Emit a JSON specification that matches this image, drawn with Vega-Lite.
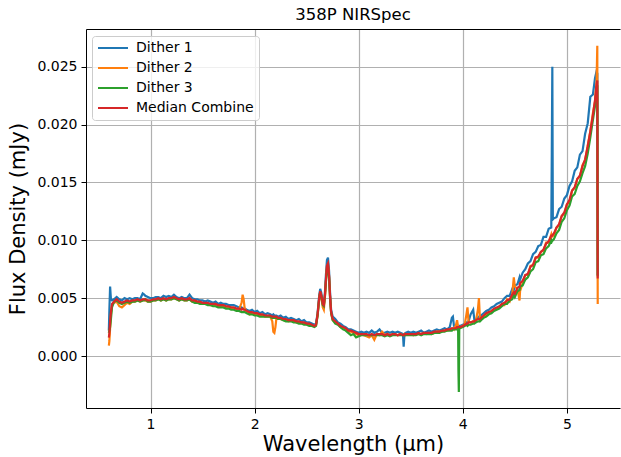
{
"$schema":"https://vega.github.io/schema/vega-lite/v6.json",
"width":534,"height":379,
"autosize":{"type":"none"},
"padding":{"left":86,"top":29,"right":1,"bottom":49},
"background":"white",
"config":{"view":{"stroke":null},"font":"DejaVu Sans",
"axis":{"labelFont":"DejaVu Sans","labelFontSize":14,"labelColor":"black","tickColor":"black","tickSize":5,"tickWidth":1,"labelPadding":4,"domainColor":"black","domainWidth":1,"gridColor":"#b0b0b0","gridWidth":1.2,"titleFont":"DejaVu Sans","titleFontSize":21,"titleFontWeight":"normal","titleColor":"black"}},
"title":{"text":"358P NIRSpec","fontSize":16.5,"fontWeight":"normal","font":"DejaVu Sans","color":"black","offset":6},
"data":{"values":[
{"w":0.600,"d1":0.0022,"d2":0.0009,"d3":0.0020,"m":0.0016},
{"w":0.605,"d1":0.0040,"d2":0.0013,"d3":0.0022,"m":0.0020},
{"w":0.612,"d1":0.0060,"d2":0.0024,"d3":0.0025,"m":0.0030},
{"w":0.620,"d1":0.0049,"d2":0.0036,"d3":0.0032,"m":0.0038},
{"w":0.630,"d1":0.0048,"d2":0.0044,"d3":0.0042,"m":0.0045},
{"w":0.650,"d1":0.0049,"d2":0.0046,"d3":0.0047,"m":0.0047},
{"w":0.675,"d1":0.0051,"d2":0.0047,"d3":0.0048,"m":0.0049},
{"w":0.700,"d1":0.0049,"d2":0.0043,"d3":0.0046,"m":0.0047},
{"w":0.725,"d1":0.0048,"d2":0.0042,"d3":0.0045,"m":0.0046},
{"w":0.750,"d1":0.0050,"d2":0.0044,"d3":0.0046,"m":0.0047},
{"w":0.775,"d1":0.0049,"d2":0.0046,"d3":0.0047,"m":0.0048},
{"w":0.800,"d1":0.0050,"d2":0.0045,"d3":0.0046,"m":0.0047},
{"w":0.825,"d1":0.0049,"d2":0.0047,"d3":0.0047,"m":0.0048},
{"w":0.850,"d1":0.0050,"d2":0.0047,"d3":0.0047,"m":0.0048},
{"w":0.875,"d1":0.0050,"d2":0.0048,"d3":0.0048,"m":0.0049},
{"w":0.900,"d1":0.0049,"d2":0.0047,"d3":0.0047,"m":0.0048},
{"w":0.925,"d1":0.0054,"d2":0.0048,"d3":0.0048,"m":0.0049},
{"w":0.940,"d1":0.0053,"d2":0.0049,"d3":0.0048,"m":0.0049},
{"w":0.950,"d1":0.0052,"d2":0.0048,"d3":0.0049,"m":0.0049},
{"w":0.975,"d1":0.0051,"d2":0.0047,"d3":0.0047,"m":0.0048},
{"w":1.000,"d1":0.0050,"d2":0.0047,"d3":0.0047,"m":0.0048},
{"w":1.025,"d1":0.0050,"d2":0.0048,"d3":0.0048,"m":0.0049},
{"w":1.050,"d1":0.0051,"d2":0.0048,"d3":0.0048,"m":0.0049},
{"w":1.075,"d1":0.0051,"d2":0.0049,"d3":0.0049,"m":0.0050},
{"w":1.100,"d1":0.0050,"d2":0.0048,"d3":0.0048,"m":0.0049},
{"w":1.125,"d1":0.0052,"d2":0.0049,"d3":0.0049,"m":0.0050},
{"w":1.150,"d1":0.0051,"d2":0.0048,"d3":0.0048,"m":0.0049},
{"w":1.175,"d1":0.0052,"d2":0.0049,"d3":0.0049,"m":0.0050},
{"w":1.200,"d1":0.0051,"d2":0.0049,"d3":0.0049,"m":0.0050},
{"w":1.225,"d1":0.0053,"d2":0.0050,"d3":0.0050,"m":0.0051},
{"w":1.250,"d1":0.0051,"d2":0.0049,"d3":0.0049,"m":0.0050},
{"w":1.275,"d1":0.0050,"d2":0.0048,"d3":0.0048,"m":0.0049},
{"w":1.300,"d1":0.0051,"d2":0.0049,"d3":0.0049,"m":0.0050},
{"w":1.325,"d1":0.0050,"d2":0.0048,"d3":0.0048,"m":0.0049},
{"w":1.350,"d1":0.0050,"d2":0.0048,"d3":0.0048,"m":0.0049},
{"w":1.375,"d1":0.0053,"d2":0.0049,"d3":0.0049,"m":0.0050},
{"w":1.400,"d1":0.0050,"d2":0.0047,"d3":0.0047,"m":0.0048},
{"w":1.425,"d1":0.0049,"d2":0.0047,"d3":0.0046,"m":0.0048},
{"w":1.450,"d1":0.0049,"d2":0.0046,"d3":0.0046,"m":0.0047},
{"w":1.475,"d1":0.0048,"d2":0.0046,"d3":0.0045,"m":0.0047},
{"w":1.500,"d1":0.0048,"d2":0.0045,"d3":0.0045,"m":0.0046},
{"w":1.525,"d1":0.0047,"d2":0.0045,"d3":0.0045,"m":0.0046},
{"w":1.550,"d1":0.0048,"d2":0.0045,"d3":0.0044,"m":0.0046},
{"w":1.575,"d1":0.0047,"d2":0.0044,"d3":0.0044,"m":0.0045},
{"w":1.600,"d1":0.0046,"d2":0.0044,"d3":0.0043,"m":0.0045},
{"w":1.625,"d1":0.0047,"d2":0.0044,"d3":0.0043,"m":0.0045},
{"w":1.650,"d1":0.0045,"d2":0.0043,"d3":0.0042,"m":0.0044},
{"w":1.675,"d1":0.0046,"d2":0.0043,"d3":0.0042,"m":0.0044},
{"w":1.700,"d1":0.0045,"d2":0.0043,"d3":0.0042,"m":0.0044},
{"w":1.725,"d1":0.0045,"d2":0.0042,"d3":0.0041,"m":0.0043},
{"w":1.750,"d1":0.0044,"d2":0.0042,"d3":0.0041,"m":0.0043},
{"w":1.775,"d1":0.0044,"d2":0.0041,"d3":0.0040,"m":0.0042},
{"w":1.800,"d1":0.0044,"d2":0.0041,"d3":0.0040,"m":0.0042},
{"w":1.825,"d1":0.0043,"d2":0.0040,"d3":0.0039,"m":0.0041},
{"w":1.850,"d1":0.0042,"d2":0.0040,"d3":0.0039,"m":0.0041},
{"w":1.875,"d1":0.0042,"d2":0.0046,"d3":0.0038,"m":0.0040},
{"w":1.885,"d1":0.0041,"d2":0.0053,"d3":0.0038,"m":0.0041},
{"w":1.895,"d1":0.0041,"d2":0.0049,"d3":0.0038,"m":0.0040},
{"w":1.905,"d1":0.0041,"d2":0.0041,"d3":0.0038,"m":0.0040},
{"w":1.925,"d1":0.0040,"d2":0.0038,"d3":0.0037,"m":0.0039},
{"w":1.950,"d1":0.0039,"d2":0.0036,"d3":0.0036,"m":0.0038},
{"w":1.975,"d1":0.0040,"d2":0.0037,"d3":0.0036,"m":0.0038},
{"w":2.000,"d1":0.0038,"d2":0.0036,"d3":0.0035,"m":0.0037},
{"w":2.025,"d1":0.0039,"d2":0.0036,"d3":0.0035,"m":0.0037},
{"w":2.050,"d1":0.0037,"d2":0.0035,"d3":0.0034,"m":0.0036},
{"w":2.075,"d1":0.0038,"d2":0.0035,"d3":0.0034,"m":0.0036},
{"w":2.100,"d1":0.0036,"d2":0.0034,"d3":0.0034,"m":0.0035},
{"w":2.125,"d1":0.0037,"d2":0.0034,"d3":0.0034,"m":0.0035},
{"w":2.150,"d1":0.0036,"d2":0.0034,"d3":0.0034,"m":0.0035},
{"w":2.170,"d1":0.0035,"d2":0.0030,"d3":0.0033,"m":0.0034},
{"w":2.180,"d1":0.0036,"d2":0.0021,"d3":0.0033,"m":0.0034},
{"w":2.190,"d1":0.0035,"d2":0.0020,"d3":0.0033,"m":0.0034},
{"w":2.200,"d1":0.0035,"d2":0.0025,"d3":0.0033,"m":0.0034},
{"w":2.210,"d1":0.0035,"d2":0.0033,"d3":0.0033,"m":0.0034},
{"w":2.225,"d1":0.0034,"d2":0.0032,"d3":0.0032,"m":0.0033},
{"w":2.250,"d1":0.0035,"d2":0.0032,"d3":0.0032,"m":0.0033},
{"w":2.275,"d1":0.0033,"d2":0.0031,"d3":0.0031,"m":0.0032},
{"w":2.300,"d1":0.0034,"d2":0.0031,"d3":0.0030,"m":0.0032},
{"w":2.325,"d1":0.0032,"d2":0.0030,"d3":0.0030,"m":0.0031},
{"w":2.350,"d1":0.0033,"d2":0.0031,"d3":0.0030,"m":0.0031},
{"w":2.375,"d1":0.0032,"d2":0.0030,"d3":0.0029,"m":0.0031},
{"w":2.400,"d1":0.0031,"d2":0.0029,"d3":0.0029,"m":0.0030},
{"w":2.425,"d1":0.0032,"d2":0.0029,"d3":0.0028,"m":0.0030},
{"w":2.450,"d1":0.0030,"d2":0.0029,"d3":0.0028,"m":0.0029},
{"w":2.475,"d1":0.0031,"d2":0.0028,"d3":0.0027,"m":0.0029},
{"w":2.500,"d1":0.0029,"d2":0.0028,"d3":0.0027,"m":0.0028},
{"w":2.525,"d1":0.0029,"d2":0.0027,"d3":0.0026,"m":0.0028},
{"w":2.550,"d1":0.0028,"d2":0.0026,"d3":0.0026,"m":0.0027},
{"w":2.575,"d1":0.0027,"d2":0.0026,"d3":0.0025,"m":0.0026},
{"w":2.590,"d1":0.0028,"d2":0.0027,"d3":0.0026,"m":0.0027},
{"w":2.605,"d1":0.0037,"d2":0.0035,"d3":0.0035,"m":0.0036},
{"w":2.620,"d1":0.0052,"d2":0.0049,"d3":0.0049,"m":0.0050},
{"w":2.630,"d1":0.0058,"d2":0.0055,"d3":0.0055,"m":0.0056},
{"w":2.640,"d1":0.0055,"d2":0.0051,"d3":0.0052,"m":0.0053},
{"w":2.655,"d1":0.0046,"d2":0.0042,"d3":0.0044,"m":0.0045},
{"w":2.665,"d1":0.0045,"d2":0.0040,"d3":0.0043,"m":0.0044},
{"w":2.675,"d1":0.0054,"d2":0.0050,"d3":0.0051,"m":0.0052},
{"w":2.685,"d1":0.0070,"d2":0.0064,"d3":0.0064,"m":0.0066},
{"w":2.695,"d1":0.0083,"d2":0.0077,"d3":0.0075,"m":0.0078},
{"w":2.705,"d1":0.0085,"d2":0.0079,"d3":0.0077,"m":0.0080},
{"w":2.715,"d1":0.0074,"d2":0.0069,"d3":0.0068,"m":0.0070},
{"w":2.725,"d1":0.0055,"d2":0.0051,"d3":0.0050,"m":0.0052},
{"w":2.735,"d1":0.0040,"d2":0.0037,"d3":0.0037,"m":0.0038},
{"w":2.750,"d1":0.0034,"d2":0.0031,"d3":0.0031,"m":0.0032},
{"w":2.775,"d1":0.0032,"d2":0.0029,"d3":0.0028,"m":0.0030},
{"w":2.800,"d1":0.0029,"d2":0.0028,"d3":0.0027,"m":0.0028},
{"w":2.825,"d1":0.0028,"d2":0.0025,"d3":0.0025,"m":0.0026},
{"w":2.850,"d1":0.0026,"d2":0.0024,"d3":0.0023,"m":0.0025},
{"w":2.875,"d1":0.0025,"d2":0.0023,"d3":0.0022,"m":0.0024},
{"w":2.900,"d1":0.0023,"d2":0.0021,"d3":0.0020,"m":0.0022},
{"w":2.925,"d1":0.0023,"d2":0.0021,"d3":0.0018,"m":0.0022},
{"w":2.950,"d1":0.0022,"d2":0.0020,"d3":0.0019,"m":0.0021},
{"w":2.975,"d1":0.0021,"d2":0.0019,"d3":0.0016,"m":0.0020},
{"w":3.000,"d1":0.0020,"d2":0.0018,"d3":0.0017,"m":0.0019},
{"w":3.025,"d1":0.0021,"d2":0.0019,"d3":0.0018,"m":0.0019},
{"w":3.050,"d1":0.0020,"d2":0.0018,"d3":0.0018,"m":0.0019},
{"w":3.075,"d1":0.0021,"d2":0.0017,"d3":0.0018,"m":0.0019},
{"w":3.100,"d1":0.0020,"d2":0.0016,"d3":0.0018,"m":0.0018},
{"w":3.125,"d1":0.0022,"d2":0.0018,"d3":0.0018,"m":0.0019},
{"w":3.150,"d1":0.0020,"d2":0.0014,"d3":0.0018,"m":0.0018},
{"w":3.175,"d1":0.0021,"d2":0.0019,"d3":0.0018,"m":0.0019},
{"w":3.200,"d1":0.0023,"d2":0.0018,"d3":0.0018,"m":0.0019},
{"w":3.225,"d1":0.0020,"d2":0.0021,"d3":0.0018,"m":0.0019},
{"w":3.250,"d1":0.0020,"d2":0.0018,"d3":0.0017,"m":0.0018},
{"w":3.275,"d1":0.0021,"d2":0.0019,"d3":0.0018,"m":0.0019},
{"w":3.300,"d1":0.0020,"d2":0.0018,"d3":0.0017,"m":0.0018},
{"w":3.325,"d1":0.0021,"d2":0.0019,"d3":0.0018,"m":0.0019},
{"w":3.350,"d1":0.0020,"d2":0.0019,"d3":0.0018,"m":0.0019},
{"w":3.375,"d1":0.0021,"d2":0.0018,"d3":0.0018,"m":0.0018},
{"w":3.400,"d1":0.0020,"d2":0.0019,"d3":0.0018,"m":0.0019},
{"w":3.425,"d1":0.0019,"d2":0.0018,"d3":0.0018,"m":0.0018},
{"w":3.432,"d1":0.0008,"d2":0.0018,"d3":0.0018,"m":0.0018},
{"w":3.440,"d1":0.0019,"d2":0.0019,"d3":0.0018,"m":0.0019},
{"w":3.450,"d1":0.0020,"d2":0.0018,"d3":0.0018,"m":0.0019},
{"w":3.475,"d1":0.0021,"d2":0.0019,"d3":0.0018,"m":0.0019},
{"w":3.500,"d1":0.0020,"d2":0.0019,"d3":0.0018,"m":0.0019},
{"w":3.525,"d1":0.0021,"d2":0.0018,"d3":0.0018,"m":0.0019},
{"w":3.550,"d1":0.0020,"d2":0.0019,"d3":0.0018,"m":0.0019},
{"w":3.575,"d1":0.0021,"d2":0.0019,"d3":0.0019,"m":0.0020},
{"w":3.600,"d1":0.0022,"d2":0.0019,"d3":0.0018,"m":0.0019},
{"w":3.625,"d1":0.0020,"d2":0.0020,"d3":0.0019,"m":0.0020},
{"w":3.650,"d1":0.0021,"d2":0.0019,"d3":0.0019,"m":0.0020},
{"w":3.675,"d1":0.0022,"d2":0.0020,"d3":0.0019,"m":0.0020},
{"w":3.700,"d1":0.0021,"d2":0.0019,"d3":0.0019,"m":0.0020},
{"w":3.725,"d1":0.0022,"d2":0.0020,"d3":0.0020,"m":0.0021},
{"w":3.750,"d1":0.0023,"d2":0.0021,"d3":0.0020,"m":0.0021},
{"w":3.775,"d1":0.0022,"d2":0.0021,"d3":0.0020,"m":0.0021},
{"w":3.800,"d1":0.0023,"d2":0.0021,"d3":0.0021,"m":0.0022},
{"w":3.825,"d1":0.0024,"d2":0.0022,"d3":0.0021,"m":0.0022},
{"w":3.850,"d1":0.0023,"d2":0.0022,"d3":0.0022,"m":0.0023},
{"w":3.875,"d1":0.0025,"d2":0.0023,"d3":0.0022,"m":0.0023},
{"w":3.895,"d1":0.0033,"d2":0.0024,"d3":0.0022,"m":0.0024},
{"w":3.905,"d1":0.0034,"d2":0.0024,"d3":0.0023,"m":0.0024},
{"w":3.915,"d1":0.0026,"d2":0.0023,"d3":0.0023,"m":0.0024},
{"w":3.935,"d1":0.0025,"d2":0.0027,"d3":0.0023,"m":0.0024},
{"w":3.945,"d1":0.0025,"d2":0.0031,"d3":0.0023,"m":0.0025},
{"w":3.955,"d1":0.0025,"d2":0.0025,"d3":0.0024,"m":0.0025},
{"w":3.958,"d1":0.0025,"d2":0.0025,"d3":-0.0012,"m":0.0025},
{"w":3.962,"d1":0.0026,"d2":0.0025,"d3":-0.0031,"m":0.0025},
{"w":3.966,"d1":0.0026,"d2":0.0025,"d3":0.0024,"m":0.0025},
{"w":3.975,"d1":0.0026,"d2":0.0025,"d3":0.0024,"m":0.0025},
{"w":4.000,"d1":0.0027,"d2":0.0026,"d3":0.0025,"m":0.0026},
{"w":4.020,"d1":0.0028,"d2":0.0028,"d3":0.0026,"m":0.0027},
{"w":4.035,"d1":0.0029,"d2":0.0036,"d3":0.0027,"m":0.0028},
{"w":4.045,"d1":0.0028,"d2":0.0042,"d3":0.0026,"m":0.0028},
{"w":4.055,"d1":0.0030,"d2":0.0030,"d3":0.0027,"m":0.0029},
{"w":4.075,"d1":0.0036,"d2":0.0029,"d3":0.0027,"m":0.0029},
{"w":4.100,"d1":0.0040,"d2":0.0030,"d3":0.0028,"m":0.0030},
{"w":4.110,"d1":0.0032,"d2":0.0029,"d3":0.0028,"m":0.0030},
{"w":4.125,"d1":0.0032,"d2":0.0030,"d3":0.0029,"m":0.0031},
{"w":4.145,"d1":0.0033,"d2":0.0040,"d3":0.0030,"m":0.0032},
{"w":4.155,"d1":0.0034,"d2":0.0050,"d3":0.0030,"m":0.0032},
{"w":4.165,"d1":0.0034,"d2":0.0031,"d3":0.0030,"m":0.0032},
{"w":4.175,"d1":0.0035,"d2":0.0032,"d3":0.0031,"m":0.0033},
{"w":4.200,"d1":0.0037,"d2":0.0034,"d3":0.0033,"m":0.0035},
{"w":4.225,"d1":0.0039,"d2":0.0036,"d3":0.0034,"m":0.0037},
{"w":4.250,"d1":0.0040,"d2":0.0037,"d3":0.0036,"m":0.0038},
{"w":4.275,"d1":0.0042,"d2":0.0038,"d3":0.0037,"m":0.0039},
{"w":4.300,"d1":0.0043,"d2":0.0040,"d3":0.0039,"m":0.0041},
{"w":4.325,"d1":0.0045,"d2":0.0041,"d3":0.0040,"m":0.0042},
{"w":4.350,"d1":0.0046,"d2":0.0042,"d3":0.0041,"m":0.0043},
{"w":4.375,"d1":0.0047,"d2":0.0044,"d3":0.0043,"m":0.0045},
{"w":4.400,"d1":0.0050,"d2":0.0044,"d3":0.0045,"m":0.0046},
{"w":4.425,"d1":0.0052,"d2":0.0049,"d3":0.0045,"m":0.0048},
{"w":4.450,"d1":0.0052,"d2":0.0047,"d3":0.0048,"m":0.0049},
{"w":4.475,"d1":0.0058,"d2":0.0053,"d3":0.0049,"m":0.0053},
{"w":4.490,"d1":0.0057,"d2":0.0068,"d3":0.0053,"m":0.0055},
{"w":4.500,"d1":0.0061,"d2":0.0060,"d3":0.0051,"m":0.0054},
{"w":4.525,"d1":0.0062,"d2":0.0058,"d3":0.0056,"m":0.0059},
{"w":4.545,"d1":0.0068,"d2":0.0048,"d3":0.0057,"m":0.0060},
{"w":4.550,"d1":0.0066,"d2":0.0056,"d3":0.0060,"m":0.0063},
{"w":4.575,"d1":0.0072,"d2":0.0063,"d3":0.0061,"m":0.0065},
{"w":4.600,"d1":0.0075,"d2":0.0070,"d3":0.0066,"m":0.0070},
{"w":4.625,"d1":0.0080,"d2":0.0070,"d3":0.0068,"m":0.0071},
{"w":4.650,"d1":0.0082,"d2":0.0078,"d3":0.0073,"m":0.0077},
{"w":4.675,"d1":0.0088,"d2":0.0078,"d3":0.0075,"m":0.0079},
{"w":4.700,"d1":0.0090,"d2":0.0085,"d3":0.0081,"m":0.0085},
{"w":4.725,"d1":0.0095,"d2":0.0085,"d3":0.0082,"m":0.0086},
{"w":4.750,"d1":0.0096,"d2":0.0090,"d3":0.0087,"m":0.0090},
{"w":4.775,"d1":0.0103,"d2":0.0091,"d3":0.0088,"m":0.0092},
{"w":4.800,"d1":0.0103,"d2":0.0098,"d3":0.0093,"m":0.0097},
{"w":4.825,"d1":0.0110,"d2":0.0098,"d3":0.0095,"m":0.0099},
{"w":4.850,"d1":0.0111,"d2":0.0105,"d3":0.0100,"m":0.0104},
{"w":4.855,"d1":0.0176,"d2":0.0103,"d3":0.0099,"m":0.0104},
{"w":4.860,"d1":0.0250,"d2":0.0104,"d3":0.0100,"m":0.0104},
{"w":4.865,"d1":0.0118,"d2":0.0104,"d3":0.0100,"m":0.0105},
{"w":4.875,"d1":0.0119,"d2":0.0104,"d3":0.0101,"m":0.0106},
{"w":4.900,"d1":0.0120,"d2":0.0111,"d3":0.0106,"m":0.0111},
{"w":4.925,"d1":0.0127,"d2":0.0113,"d3":0.0109,"m":0.0114},
{"w":4.950,"d1":0.0129,"d2":0.0121,"d3":0.0116,"m":0.0121},
{"w":4.975,"d1":0.0136,"d2":0.0123,"d3":0.0119,"m":0.0124},
{"w":5.000,"d1":0.0139,"d2":0.0131,"d3":0.0126,"m":0.0131},
{"w":5.025,"d1":0.0147,"d2":0.0133,"d3":0.0130,"m":0.0135},
{"w":5.050,"d1":0.0151,"d2":0.0143,"d3":0.0138,"m":0.0143},
{"w":5.075,"d1":0.0160,"d2":0.0145,"d3":0.0140,"m":0.0146},
{"w":5.100,"d1":0.0163,"d2":0.0153,"d3":0.0147,"m":0.0153},
{"w":5.125,"d1":0.0174,"d2":0.0155,"d3":0.0151,"m":0.0156},
{"w":5.150,"d1":0.0177,"d2":0.0165,"d3":0.0158,"m":0.0164},
{"w":5.175,"d1":0.0192,"d2":0.0169,"d3":0.0164,"m":0.0170},
{"w":5.200,"d1":0.0201,"d2":0.0182,"d3":0.0175,"m":0.0181},
{"w":5.225,"d1":0.0224,"d2":0.0194,"d3":0.0189,"m":0.0194},
{"w":5.250,"d1":0.0226,"d2":0.0210,"d3":0.0204,"m":0.0208},
{"w":5.270,"d1":0.0240,"d2":0.0220,"d3":0.0216,"m":0.0221},
{"w":5.285,"d1":0.0246,"d2":0.0237,"d3":0.0232,"m":0.0235},
{"w":5.292,"d1":0.0244,"d2":0.0268,"d3":0.0234,"m":0.0238},
{"w":5.296,"d1":0.0070,"d2":0.0045,"d3":0.0069,"m":0.0067}
]},
"transform":[{"fold":["d1","d2","d3","m"],"as":["series","flux"]}],
"encoding":{
"y":{"field":"flux","type":"quantitative","scale":{"domain":[-0.004491,0.028256],"nice":false,"zero":false},
"axis":{"values":[0,0.005,0.01,0.015,0.02,0.025],"format":".3f","title":"Flux Density (mJy)","titlePadding":8,"grid":true}}
},
"layer":[
{"mark":{"type":"line","strokeWidth":2.2},
"encoding":{
"x":{"field":"w","type":"quantitative","scale":{"domain":[0.3804,5.5101],"nice":false,"zero":false},
"axis":{"values":[1,2,3,4,5],"format":"d","title":"Wavelength (μm)","titlePadding":2,"grid":true}},
"color":{"field":"series","type":"nominal","scale":{"domain":["d1","d2","d3","m"],"range":["#1f77b4","#ff7f0e","#2ca02c","#d62728"]},
"legend":{"title":null,"orient":"none","legendX":6,"legendY":7,"labelExpr":"datum.value=='d1'?'Dither 1':datum.value=='d2'?'Dither 2':datum.value=='d3'?'Dither 3':'Median Combine'",
"symbolType":"M-2.5,0H2.5","symbolSize":144,"symbolStrokeWidth":2,"symbolOffset":9,"labelOffset":16,"labelFontSize":14,"labelFont":"DejaVu Sans","labelColor":"black","rowPadding":6,"padding":5,
"fillColor":"rgba(255,255,255,0.8)","strokeColor":"#cccccc","cornerRadius":3}}
}},
{"mark":{"type":"line","opacity":0},
"encoding":{
"x":{"field":"w","type":"quantitative","scale":{"domain":[0.3804,5.5101],"nice":false,"zero":false},
"axis":{"orient":"top","labels":false,"ticks":false,"grid":false,"title":null,"domain":true}}
}}
],
"resolve":{"axis":{"x":"independent"}}
}
